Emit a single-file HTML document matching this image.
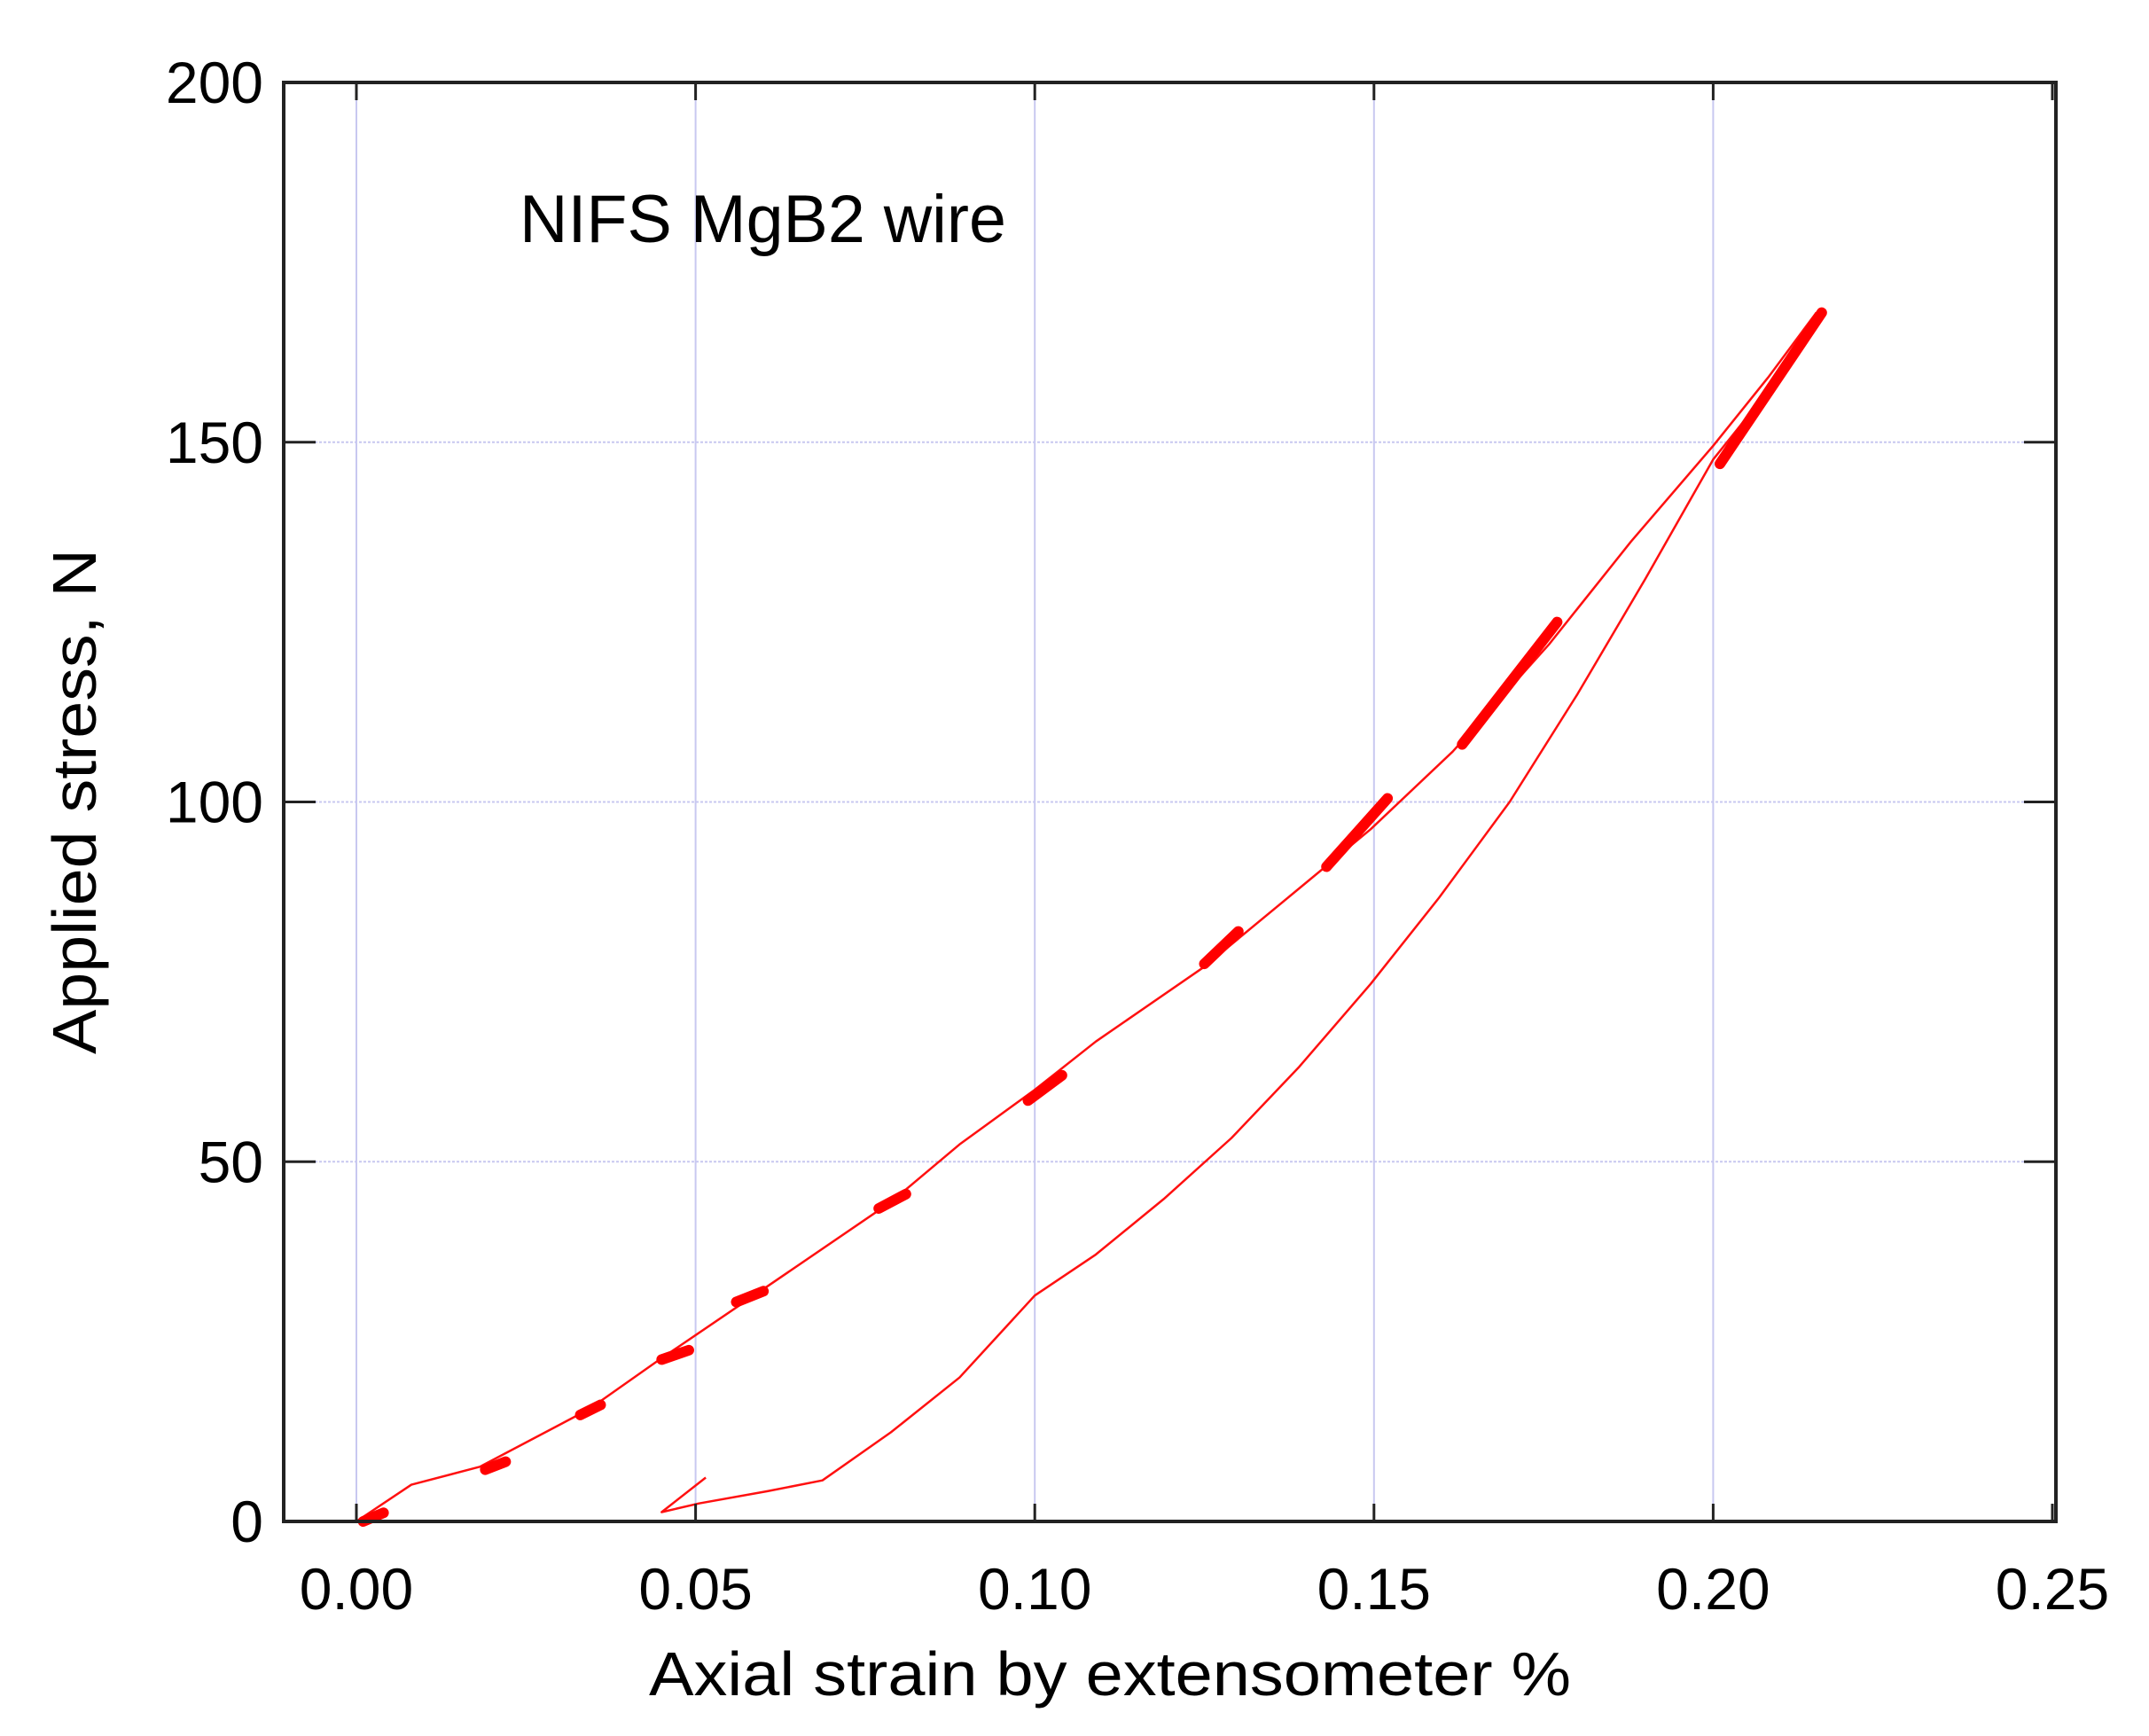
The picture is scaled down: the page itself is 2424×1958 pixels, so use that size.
<!DOCTYPE html>
<html><head><meta charset="utf-8"><style>
html,body{margin:0;padding:0;background:#fff;}
svg{display:block;font-family:"Liberation Sans",Arial,sans-serif;}
</style></head><body>
<svg id="chart" width="2424" height="1958" viewBox="0 0 2424 1958" xmlns="http://www.w3.org/2000/svg">
<rect x="0" y="0" width="2424" height="1958" fill="#fff"/>
<g id="grid"></g>
<g id="data"></g>
<g id="frame"></g>
<g id="labels"></g>
<text x="586" y="273" font-size="76" textLength="549" lengthAdjust="spacingAndGlyphs">NIFS MgB2 wire</text>
<text x="1252" y="1912" font-size="70" text-anchor="middle" textLength="1040" lengthAdjust="spacingAndGlyphs">Axial strain by extensometer %</text>
<text transform="translate(108,904) rotate(-90)" font-size="70" text-anchor="middle" textLength="570" lengthAdjust="spacingAndGlyphs">Applied stress, N</text>
</svg>
<script>
const xTicks = [0, 0.05, 0.10, 0.15, 0.20, 0.25];
const xTickLabels = ["0.00","0.05","0.10","0.15","0.20","0.25"];
const yTicks = [0, 50, 100, 150, 200];
const yTickLabels = ["0","50","100","150","200"];
const loadStrain = [0,0.0081,0.0182,0.0343,0.0444,0.0586,0.0788,0.0889,0.100,0.109,0.125,0.139,0.1495,0.1616,0.1758,0.1879,0.200,0.2081,0.2152];
const loadStress = [0,5.1,7.6,15.6,22.3,31.4,44.4,52.4,60,66.7,77.1,88,96.2,107,121.9,136.2,149.5,159,168];
const unloadStrain = [0.2152,0.208,0.200,0.190,0.180,0.170,0.1596,0.1495,0.139,0.129,0.119,0.109,0.100,0.0889,0.0788,0.0687,0.0606,0.0505,0.045,0.0515];
const unloadStress = [168,157,147.6,131,115,100,86.7,74.7,63.2,53.3,44.8,37.1,31.4,20,12.4,5.7,4.2,2.5,1.3,6.1];
const stepStart = [0.001,0.019,0.033,0.045,0.056,0.077,0.099,0.125,0.143,0.163,0.201];
const stepEnd = [0.004,0.022,0.036,0.049,0.060,0.081,0.104,0.130,0.152,0.177,0.216];
const stepStressStart = [0,7.2,14.8,22.5,30.5,43.5,58.5,77.5,91,108,147];
const stepStressEnd = [1.2,8.3,16.2,23.8,32,45.5,62,82,100.5,125,168];

const X0=402, X1=2315, Y0=1716, Y1=93, L=320, R=2319;
const xMax=0.25, yMax=200;
function sx(v){return X0+(X1-X0)*v/xMax;}
function sy(v){return Y0-(Y0-Y1)*v/yMax;}
const NS="http://www.w3.org/2000/svg";
function mk(tag,parent,attrs){const e=document.createElementNS(NS,tag);for(const k in attrs)e.setAttribute(k,attrs[k]);parent.appendChild(e);return e;}
const grid=document.getElementById('grid'), frame=document.getElementById('frame'), labels=document.getElementById('labels'), data=document.getElementById('data');

xTicks.forEach((t,i)=>{
  const x=sx(t);
  if(i<xTicks.length-1){const g=mk('line',grid,{x1:x,x2:x,y1:Y1,y2:Y0,stroke:'#c8c8f0','stroke-width':2});
  
  }
  const tb=mk('line',frame,{x1:x,x2:x,y1:Y0,y2:Y0-20,stroke:'#222','stroke-width':3});
  
  
  const tt=mk('line',frame,{x1:x,x2:x,y1:Y1,y2:Y1+20,stroke:'#222','stroke-width':3});
  
  
  const lb=mk('text',labels,{x:x,y:1815,'font-size':66,'text-anchor':'middle'});
  lb.textContent=xTickLabels[i];
  
  
});
yTicks.forEach((t,i)=>{
  const y=sy(t);
  if(i>0&&i<yTicks.length-1){const g=mk('line',grid,{x1:L,x2:R,y1:y,y2:y,stroke:'#c8c8f0','stroke-width':2,'stroke-dasharray':'3,2'});
  
  }
  const tl=mk('line',frame,{x1:L,x2:L+36,y1:y,y2:y,stroke:'#222','stroke-width':3});
  
  
  const tr=mk('line',frame,{x1:R-36,x2:R,y1:y,y2:y,stroke:'#222','stroke-width':3});
  
  
  const lb=mk('text',labels,{x:297,y:y+23,'font-size':66,'text-anchor':'end'});
  lb.textContent=yTickLabels[i];
  
  
});
const fr=mk('rect',frame,{x:L,y:Y1,width:R-L,height:Y0-Y1,fill:'none',stroke:'#222','stroke-width':4});



function pathOf(xs,ys){return xs.map((v,i)=>(i?'L':'M')+sx(v).toFixed(1)+','+sy(ys[i]).toFixed(1)).join(' ');}
const lp=mk('path',data,{d:pathOf(loadStrain,loadStress),fill:'none',stroke:'#ff1010','stroke-width':2.5,'stroke-linejoin':'round'});


const up=mk('path',data,{d:pathOf(unloadStrain,unloadStress),fill:'none',stroke:'#ff1010','stroke-width':2.5,'stroke-linejoin':'round'});


stepStart.forEach((s,i)=>{
  const seg=mk('line',data,{x1:sx(s),y1:sy(stepStressStart[i]),x2:sx(stepEnd[i]),y2:sy(stepStressEnd[i]),stroke:'#ff0000','stroke-width':12,'stroke-linecap':'round'});
  
  
});
</script>
</body></html>
